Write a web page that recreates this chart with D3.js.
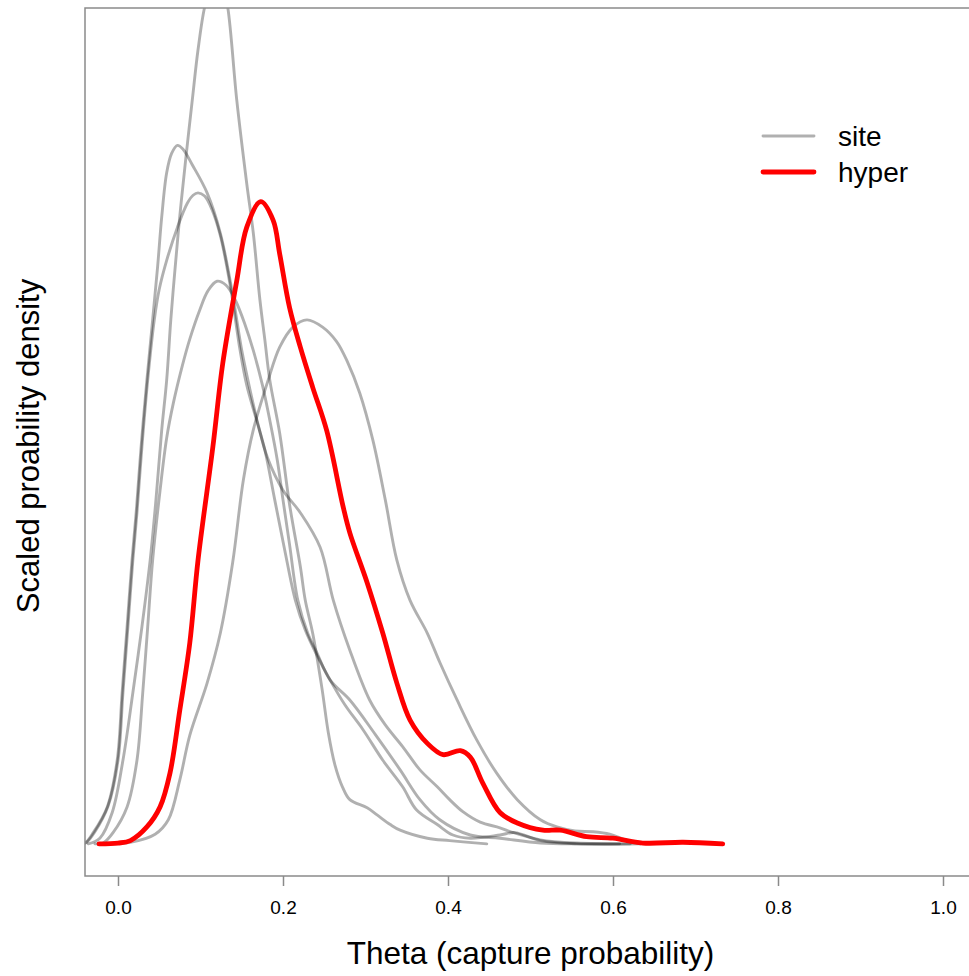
<!DOCTYPE html>
<html>
<head>
<meta charset="utf-8">
<script src="https://cdn.jsdelivr.net/npm/d3@7"></script>
<style>
  body { margin: 0; background: #fff; }
  text { font-family: "Liberation Sans", Arial, Helvetica, sans-serif; }
</style>
</head>
<body>
<div id="chart"></div>
<script>
// [theta, scaled density]
const site1 = [[-0.036,0],[-0.022,0.007],[-0.007,0.039],[0.006,0.104],[0.018,0.188],[0.029,0.270],[0.039,0.353],[0.046,0.428],[0.053,0.515],[0.059,0.577],[0.064,0.652],[0.069,0.714],[0.075,0.782],[0.082,0.851],[0.090,0.925],[0.097,0.988],[0.105,1.041],[0.113,1.068],[0.120,1.081],[0.127,1.068],[0.133,1.041],[0.144,0.925],[0.156,0.822],[0.164,0.760],[0.172,0.677],[0.178,0.627],[0.184,0.577],[0.196,0.511],[0.208,0.422],[0.221,0.345],[0.227,0.303],[0.236,0.262],[0.247,0.195],[0.255,0.138],[0.263,0.098],[0.272,0.071],[0.281,0.055],[0.302,0.045],[0.314,0.036],[0.330,0.024],[0.342,0.017],[0.375,0.007],[0.402,0.004],[0.447,0]];
const site2 = [[-0.046,0],[-0.040,0.001],[-0.030,0.014],[-0.013,0.046],[-0.001,0.104],[0.005,0.188],[0.011,0.270],[0.017,0.353],[0.022,0.412],[0.028,0.494],[0.035,0.577],[0.042,0.652],[0.048,0.718],[0.053,0.780],[0.059,0.835],[0.065,0.859],[0.072,0.869],[0.079,0.864],[0.090,0.845],[0.108,0.810],[0.124,0.760],[0.138,0.689],[0.150,0.614],[0.160,0.565],[0.170,0.521],[0.181,0.481],[0.200,0.440],[0.221,0.412],[0.245,0.369],[0.261,0.303],[0.281,0.241],[0.305,0.179],[0.324,0.148],[0.345,0.121],[0.366,0.092],[0.387,0.071],[0.402,0.055],[0.418,0.040],[0.439,0.027],[0.463,0.020],[0.479,0.014],[0.512,0.005],[0.556,0.001],[0.621,0]];
const site3 = [[-0.044,0],[-0.038,0.002],[-0.028,0.015],[-0.012,0.047],[0.000,0.104],[0.006,0.188],[0.012,0.270],[0.018,0.353],[0.023,0.412],[0.029,0.494],[0.036,0.577],[0.044,0.652],[0.050,0.690],[0.059,0.726],[0.072,0.767],[0.084,0.797],[0.091,0.807],[0.097,0.810],[0.105,0.806],[0.114,0.789],[0.124,0.757],[0.136,0.695],[0.148,0.614],[0.156,0.571],[0.168,0.527],[0.178,0.490],[0.190,0.428],[0.202,0.366],[0.215,0.303],[0.227,0.266],[0.241,0.235],[0.257,0.204],[0.275,0.173],[0.297,0.142],[0.321,0.104],[0.345,0.071],[0.362,0.042],[0.387,0.024],[0.406,0.011],[0.427,0.007],[0.463,0.011],[0.481,0.014],[0.512,0.004],[0.556,0],[0.633,0]];
const site4 = [[-0.024,0],[-0.018,0.001],[-0.006,0.014],[0.011,0.046],[0.023,0.104],[0.030,0.188],[0.036,0.270],[0.042,0.353],[0.051,0.440],[0.059,0.505],[0.067,0.548],[0.078,0.595],[0.087,0.628],[0.099,0.664],[0.109,0.688],[0.120,0.700],[0.131,0.695],[0.142,0.677],[0.154,0.646],[0.164,0.614],[0.175,0.571],[0.184,0.527],[0.193,0.478],[0.200,0.428],[0.208,0.372],[0.218,0.303],[0.230,0.262],[0.241,0.238],[0.257,0.204],[0.281,0.179],[0.312,0.136],[0.342,0.092],[0.366,0.055],[0.390,0.030],[0.427,0.011],[0.463,0.007],[0.512,0.001],[0.560,0],[0.608,0]];
const site5 = [[-0.028,0],[0.015,0.002],[0.045,0.012],[0.061,0.030],[0.075,0.080],[0.087,0.135],[0.108,0.200],[0.124,0.262],[0.139,0.350],[0.152,0.453],[0.164,0.515],[0.182,0.577],[0.196,0.618],[0.212,0.643],[0.229,0.652],[0.248,0.643],[0.265,0.625],[0.278,0.600],[0.293,0.561],[0.309,0.502],[0.324,0.428],[0.338,0.353],[0.354,0.303],[0.375,0.262],[0.390,0.226],[0.411,0.179],[0.435,0.129],[0.459,0.088],[0.484,0.055],[0.512,0.030],[0.532,0.021],[0.554,0.016],[0.576,0.015],[0.596,0.012],[0.615,0.005],[0.633,0]];
const hyper = [[-0.023,0],[0.000,0.001],[0.015,0.004],[0.035,0.021],[0.051,0.046],[0.063,0.088],[0.075,0.167],[0.087,0.250],[0.097,0.353],[0.115,0.494],[0.127,0.598],[0.144,0.701],[0.156,0.767],[0.173,0.799],[0.188,0.776],[0.196,0.734],[0.208,0.667],[0.221,0.618],[0.236,0.568],[0.253,0.514],[0.273,0.419],[0.281,0.387],[0.302,0.325],[0.321,0.262],[0.338,0.200],[0.354,0.154],[0.375,0.125],[0.394,0.111],[0.415,0.116],[0.427,0.108],[0.442,0.076],[0.463,0.039],[0.484,0.026],[0.515,0.017],[0.536,0.017],[0.568,0.009],[0.600,0.007],[0.636,0.001],[0.685,0.002],[0.733,0]];

const sites = [site1, site2, site3, site4, site5];
const xTicks = [0, 0.2, 0.4, 0.6, 0.8, 1.0];
const legendLabels = ['site', 'hyper'];

document.addEventListener('DOMContentLoaded', () => {

  const width = 969;
  const height = 976;
  const left = 85, right = 976, top = 8, bottom = 876;

  const greyCol = 'rgba(0,0,0,0.31)';
  const redCol = '#ff0000';
  const greyWidth = 2.9;
  const redWidth = 4.8;

  const svg = d3.select('#chart')
                .append('svg')
                .attr('width', width)
                .attr('height', height);

  // R style 4% padding on both axes
  const x = d3.scaleLinear().domain([-0.04, 1.04]).range([left, right]);
  const y = d3.scaleLinear().domain([-0.04, 1.04]).range([bottom, top]);

  svg.append('clipPath')
     .attr('id', 'plot-clip')
     .append('rect')
     .attr('x', left)
     .attr('y', top)
     .attr('width', right - left)
     .attr('height', bottom - top);

  const line = d3.line()
                 .x((d) => x(d[0]))
                 .y((d) => y(d[1]))
                 .curve(d3.curveCatmullRom.alpha(0.5));

  const plot = svg.append('g').attr('clip-path', 'url(#plot-clip)');

  plot.selectAll('path.site')
      .data(sites)
      .enter()
      .append('path')
      .attr('class', 'site')
      .attr('d', line)
      .attr('fill', 'none')
      .attr('stroke', greyCol)
      .attr('stroke-width', greyWidth)
      .attr('stroke-linecap', 'round')
      .attr('stroke-linejoin', 'round');

  plot.append('path')
      .datum(hyper)
      .attr('d', line)
      .attr('fill', 'none')
      .attr('stroke', redCol)
      .attr('stroke-width', redWidth)
      .attr('stroke-linecap', 'round')
      .attr('stroke-linejoin', 'round');

  // box
  svg.append('rect')
     .attr('x', left)
     .attr('y', top)
     .attr('width', right - left)
     .attr('height', bottom - top)
     .attr('fill', 'none')
     .attr('stroke', '#8a8a8a')
     .attr('stroke-width', 1.5);

  // x axis
  const xAxis = d3.axisBottom(x)
                  .tickValues(xTicks)
                  .tickFormat(d3.format('.1f'))
                  .tickSize(10)
                  .tickPadding(15);

  const axisG = svg.append('g')
                   .attr('transform', 'translate(0,' + bottom + ')')
                   .call(xAxis);
  axisG.select('.domain').remove();
  axisG.selectAll('.tick line').attr('stroke', '#8a8a8a').attr('stroke-width', 1.5);
  axisG.selectAll('.tick text')
       .attr('fill', '#000')
       .style('font-size', 19 + 'px')
       .style('font-family', '"Liberation Sans", Arial, sans-serif');

  svg.append('text')
     .attr('x', (left + right) / 2)
     .attr('y', 964)
     .attr('text-anchor', 'middle')
     .style('font-size', 31.5 + 'px')
     .text('Theta (capture probability)');

  svg.append('text')
     .attr('transform', 'translate(39,' + ((top + bottom) / 2 + 4) + ') rotate(-90)')
     .attr('text-anchor', 'middle')
     .style('font-size', 31 + 'px')
     .text('Scaled proability density');

  // legend
  const legend = svg.append('g');
  const legendItem = legend.selectAll('g')
                           .data(legendLabels)
                           .enter()
                           .append('g')
                           .attr('transform', (d, i) => 'translate(0,' + (136 + i * 36) + ')');

  legendItem.append('line')
            .attr('x1', 763)
            .attr('x2', 814)
            .attr('y1', 0)
            .attr('y2', 0)
            .attr('stroke', (d, i) => i === 0 ? greyCol : redCol)
            .attr('stroke-width', (d, i) => i === 0 ? greyWidth : redWidth)
            .attr('stroke-linecap', 'round');

  legendItem.append('text')
            .attr('x', 838)
            .attr('y', 0)
            .attr('dy', '0.36em')
            .style('font-size', 28 + 'px')
            .text((d) => d);

});
</script>
</body>
</html>
